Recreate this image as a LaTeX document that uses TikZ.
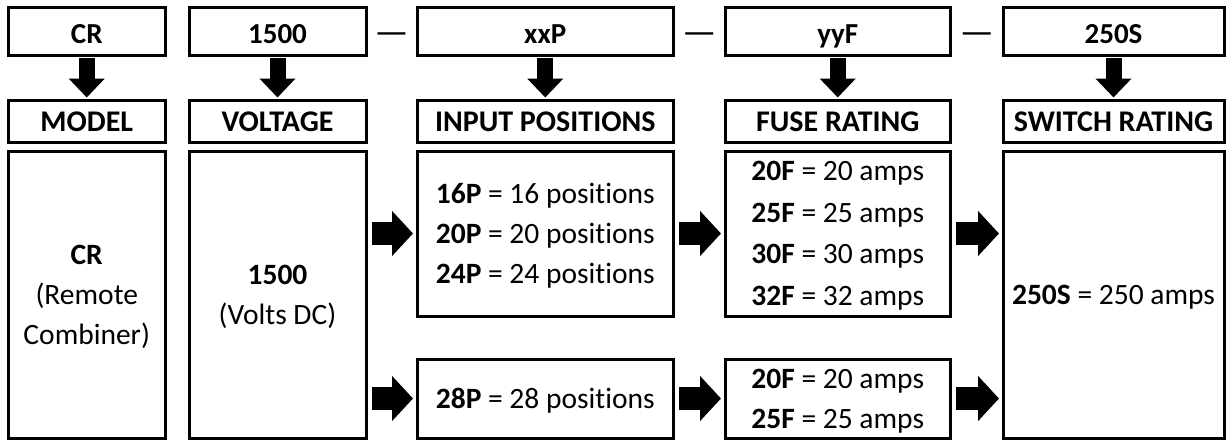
\documentclass[tikz,border=0pt]{standalone}
\usepackage{fontspec}
\setmainfont{Carlito}[Ligatures=NoCommon]
\usepackage{tikz}
\usetikzlibrary{arrows.meta}
\tikzset{
	box/.style={draw, line width=3pt, inner sep=0pt, align=center},
	bodybox/.style={box, text depth=-4pt, font=\fontsize{29.5}{40}\selectfont},
	codebox/.style={box, minimum height=47.5pt, text height=30pt, text depth=6.5pt, font=\fontsize{29}{32}\selectfont\bfseries},
	headbox/.style={box, minimum height=42pt, text height=28pt, text depth=6.6pt, font=\fontsize{30}{32}\selectfont\bfseries},
	dashmark/.style={font=\fontsize{38}{40}\selectfont},
	downarrow/.style={line width=16pt, -{Triangle[width=35pt,length=19pt]}, shorten <=1pt, shorten >=1pt},
	rightarrow/.style={line width=23pt, -{Triangle[width=44pt,length=21pt]}, shorten <=4pt, shorten >=2.5pt}
}
\begin{document}
\begin{tikzpicture}[x=1pt,y=-1pt]
					\useasboundingbox[fill=white] (0,0) rectangle (1228,440);

					\node[codebox, minimum width=156.5pt] (crcode) at (86.75,31.25) {CR};
					\node[codebox, minimum width=177pt] (voltcode) at (277.5,31.25) {1500};
					\node[codebox, minimum width=256.5pt] (inputcode) at (545.25,31.25) {xxP};
					\node[codebox, minimum width=225.5pt] (fusecode) at (837.75,31.25) {yyF};
					\node[codebox, minimum width=221pt] (switchcode) at (1113.5,31.25) {250S};

					\node[dashmark] (dasha) at (391.5,38.5) {\textemdash};
					\node[dashmark] (dashb) at (699.25,38.5) {\textemdash};
					\node[dashmark] (dashc) at (976.75,38.5) {\textemdash};

					\node[headbox, minimum width=156.5pt] (modelhead) at (86.75,121) {MODEL};
					\node[headbox, minimum width=177pt] (volthead) at (277.5,121) {VOLTAGE};
					\node[headbox, minimum width=256.5pt] (inputhead) at (545.25,121) {INPUT POSITIONS};
					\node[headbox, minimum width=225.5pt] (fusehead) at (837.75,121) {FUSE RATING};
					\node[headbox, minimum width=221pt] (switchhead) at (1113.5,121) {SWITCH RATING};

					\node[bodybox, minimum width=156.5pt, minimum height=287pt, text depth=-5.5pt] (modelbox) at (86.75,294.5) {\textbf{CR}\\(Remote\\Combiner)};
					\node[bodybox, minimum width=177pt, minimum height=287pt, text depth=-5.5pt] (voltbox) at (277.5,294.5) {\textbf{1500}\\(Volts DC)};
					\node[bodybox, minimum width=256.5pt, minimum height=165pt] (inputa) at (545.25,233.5) {\textbf{16P} = 16 positions\\\textbf{20P} = 20 positions\\\textbf{24P} = 24 positions};
					\node[bodybox, minimum width=256.5pt, minimum height=79pt] (inputb) at (545.25,398.5) {\textbf{28P} = 28 positions};
					\node[bodybox, minimum width=225.5pt, minimum height=165pt, text depth=-1pt, font=\fontsize{29.5}{41.5}\selectfont] (fusea) at (837.75,233.5) {\textbf{20F} = 20 amps\\\textbf{25F} = 25 amps\\\textbf{30F} = 30 amps\\\textbf{32F} = 32 amps};
					\node[bodybox, minimum width=225.5pt, minimum height=79pt] (fuseb) at (837.75,398.5) {\textbf{20F} = 20 amps\\\textbf{25F} = 25 amps};
					\node[bodybox, minimum width=221pt, minimum height=287pt, text depth=-2.5pt] (switchbox) at (1113.5,294.5) {\textbf{250S} = 250 amps};

					\draw[downarrow] (crcode) -- (modelhead);
					\draw[downarrow] (voltcode) -- (volthead);
					\draw[downarrow] (inputcode) -- (inputhead);
					\draw[downarrow] (fusecode) -- (fusehead);
					\draw[downarrow] (switchcode) -- (switchhead);

					\draw[rightarrow] (voltbox.east |- inputa.west) -- (inputa.west);
					\draw[rightarrow] (voltbox.east |- inputb.west) -- (inputb.west);
					\draw[rightarrow] (inputa) -- (fusea);
					\draw[rightarrow] (inputb) -- (fuseb);
					\draw[rightarrow] (fusea.east) -- (switchbox.west |- fusea.east);
					\draw[rightarrow] (fuseb.east) -- (switchbox.west |- fuseb.east);

\end{tikzpicture}
\end{document}
